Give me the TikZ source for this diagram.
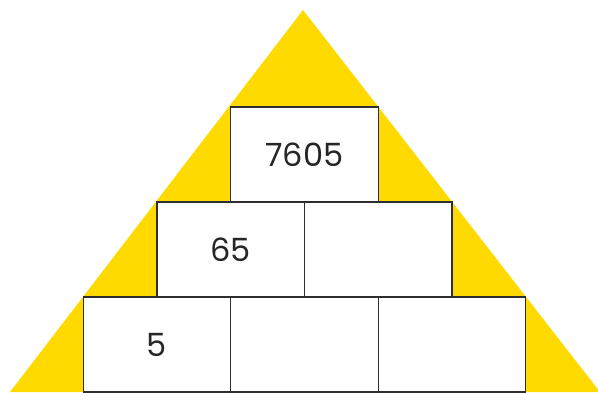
\documentclass[tikz,border=0pt]{standalone}
\usepackage{fontspec}
\setmainfont{Poppins}
\usepackage{tikz}
\usetikzlibrary{positioning}
\definecolor{pyramidyellow}{HTML}{FFDA00}
\definecolor{brickedge}{HTML}{2E2E2E}

\begin{document}
\begin{tikzpicture}[
  x=1pt, y=-1pt,
  brick/.style={draw=brickedge, fill=white, line width=1.3pt, outer sep=0pt, inner sep=0pt,
    minimum width=147.5pt, minimum height=95pt, font=\fontsize{32}{36}\selectfont, text=black!85}
]
  \useasboundingbox (0,0) rectangle (598,392);
  \clip (0,0) rectangle (598,392);
  \fill[pyramidyellow] (303,10) -- (10,392) -- (600,392) -- cycle;
  \node[brick] (top) at (304.5,154.5) {7605};
  \node[brick, anchor=north east] (midL) at (top.south) {65};
  \node[brick, anchor=north west] (midR) at (top.south) {};
  \node[brick, anchor=north east] (botL) at (midL.south) {5};
  \node[brick, anchor=north west] (botM) at (midL.south) {};
  \node[brick, anchor=north west] (botR) at (midR.south) {};
\end{tikzpicture}
\end{document}
